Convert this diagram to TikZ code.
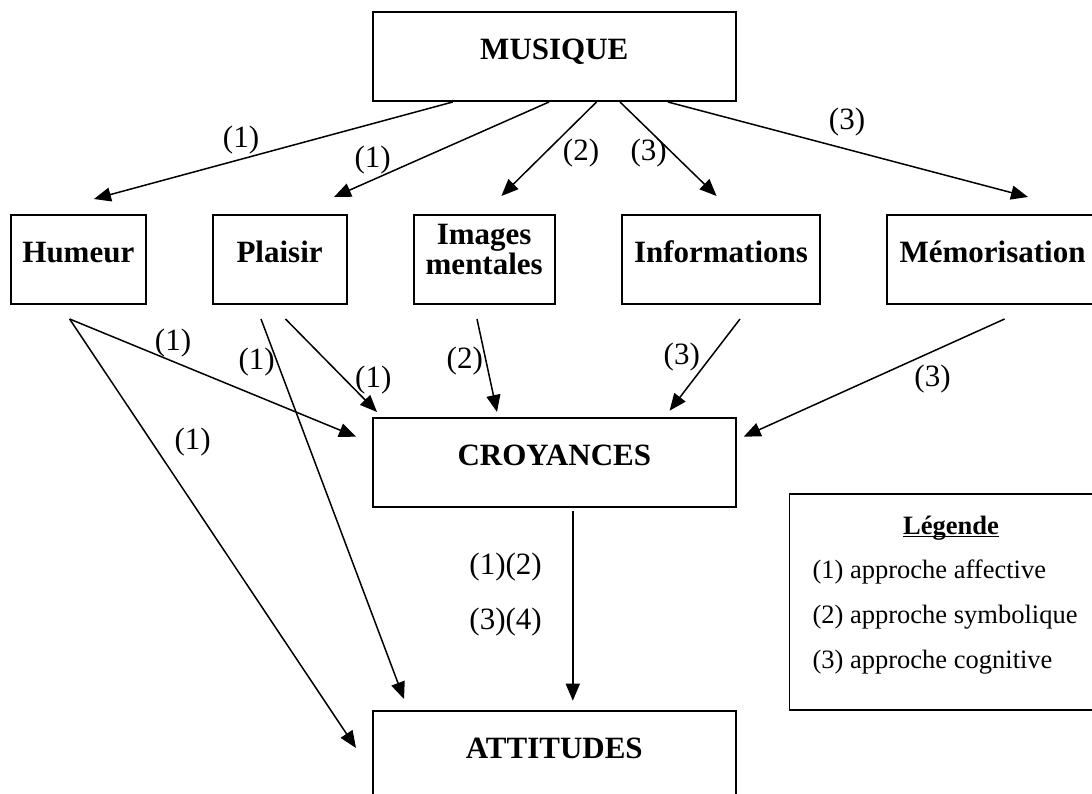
\documentclass[tikz,border=0pt]{standalone}
\usepackage{fontspec}
\setmainfont{Liberation Serif}
\usetikzlibrary{arrows.meta,calc}
\begin{document}
\begin{tikzpicture}[x=1pt,y=-1pt,
  box/.style={draw, line width=2pt, minimum height=89pt, inner sep=0pt,
    font=\fontsize{31}{31}\selectfont\bfseries, text height=20.5pt, text depth=15pt},
  btxt/.style={font=\fontsize{31}{31}\selectfont\bfseries, inner sep=0pt, anchor=base},
  lbl/.style={font=\fontsize{31}{31}\selectfont, inner sep=0pt},
  arr/.style={line width=1.5pt, -{Triangle[length=17pt,width=14pt]}},
  legtxt/.style={font=\fontsize{26.5}{26.5}\selectfont, inner sep=0pt, anchor=base west}]
\useasboundingbox (0,0) rectangle (1092,794);
\clip (0,0) rectangle (1092,794);
% boxes
\node[box, minimum width=363.4pt] (mus) at (554.3,56.5) {MUSIQUE};
\node[box, minimum width=135.1pt] (hum) at (78.35,259.5) {Humeur};
\node[box, minimum width=133.8pt] (pla) at (279.6,259.5) {Plaisir};
\node[box, minimum width=141pt] (img) at (484.2,259.5) {};
\node[btxt] (img1) at (484.2,245) {Images};
\node[btxt] (img2) at (484.2,275) {mentales};
\node[box, minimum width=198.8pt] (inf) at (721,259.5) {Informations};
\node[box, minimum width=210.6pt] (mem) at (992.5,259.5) {Mémorisation};
\node[box, minimum width=363.4pt] (croy) at (554.3,462.5) {CROYANCES};
\node[box, minimum width=363.4pt] (att) at (554.3,755.5) {ATTITUDES};
% legend
\node[draw, line width=1.6pt, minimum width=324pt, minimum height=216pt, anchor=north west, inner sep=0pt] (leg) at (788.7,493.3) {};
\node[font=\fontsize{26.5}{26.5}\selectfont\bfseries, inner sep=0pt, anchor=base] (legt) at (951,534) {Légende};
\draw[line width=1.3pt] ($(legt.base west)+(0,2.8)$) -- ($(legt.base east)+(0,2.8)$);
\node[legtxt] (l1) at (812.4,578.5) {(1) approche affective};
\node[legtxt] (l2) at (812.4,623.3) {(2) approche symbolique};
\node[legtxt] (l3) at (812.4,668.3) {(3) approche cognitive};
% arrows from MUSIQUE
\draw[arr] ($(mus.south)+(-101.6,0)$) -- ($(hum.north)+(15.6,-15)$);
\draw[arr] ($(mus.south)+(-5.3,0)$) -- ($(pla.north)+(54.4,-17)$);
\draw[arr] ($(mus.south)+(42.2,0)$) -- ($(img.north)+(17.2,-18)$);
\draw[arr] ($(mus.south)+(65.7,0)$) -- ($(inf.north)+(-4.4,-18)$);
\draw[arr] ($(mus.south)+(113.6,0)$) -- ($(mem.north)+(35.5,-17)$);
% second tier
\draw[arr] ($(hum.south)+(-8.75,14)$) -- ($(croy.west)+(-15.6,-25.8)$);
\draw[arr] ($(hum.south)+(-8.75,14)$) -- ($(att.west)+(-15.6,-7.5)$);
\draw[arr] ($(pla.south)+(-18.6,14)$) -- ($(att.north)+(-150.3,-11)$);
\draw[arr] ($(pla.south)+(5.9,14)$) -- ($(croy.north west)+(5.4,-5)$);
\draw[arr] ($(img.south)+(-7.2,14)$) -- ($(croy.north west)+(125.4,-5)$);
\draw[arr] ($(inf.south)+(19,14)$) -- ($(croy.north)+(115.3,-6.3)$);
\draw[arr] ($(mem.south)+(12.1,14)$) -- ($(croy.east)+(6.7,-25.8)$);
\draw[arr] ($(croy.south)+(18.5,3)$) -- ($(att.north)+(18.5,-9.3)$);
% labels
\node[lbl] (a1) at (241,140) {(1)};
\node[lbl] (a2) at (372.6,160) {(1)};
\node[lbl] (a3) at (581,153.3) {(2)};
\node[lbl] (a4) at (648.7,153.3) {(3)};
\node[lbl] (a5) at (847,122.5) {(3)};
\node[lbl] (b1) at (173,343) {(1)};
\node[lbl] (b2) at (192.6,441.7) {(1)};
\node[lbl] (b3) at (256.6,362) {(1)};
\node[lbl] (b4) at (373.3,380) {(1)};
\node[lbl] (b5) at (464.8,360.7) {(2)};
\node[lbl] (b6) at (681.8,357) {(3)};
\node[lbl] (b7) at (932.5,379) {(3)};
\node[lbl] (c1) at (505.6,566.7) {(1)(2)};
\node[lbl] (c2) at (505.6,621.7) {(3)(4)};
\end{tikzpicture}
\end{document}
